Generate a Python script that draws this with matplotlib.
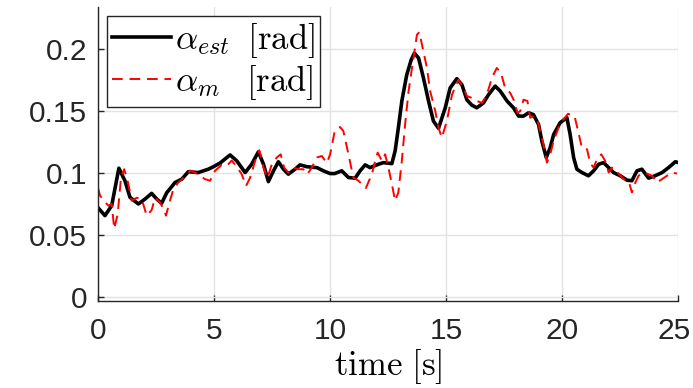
import numpy as np
import matplotlib
matplotlib.use('Agg')
import matplotlib.pyplot as plt
import matplotlib.transforms as mtransforms

plt.rcParams['mathtext.fontset'] = 'cm'
plt.rcParams['font.family'] = 'Liberation Sans'

# estimated angle (black)
t_est = [0.0, 0.3, 0.59, 0.9, 1.16, 1.38, 1.74, 2.03, 2.31, 2.53, 2.74, 2.96, 3.32, 3.61,
         3.89, 4.32, 4.75, 4.97, 5.26, 5.69, 5.98, 6.34, 6.62, 6.91, 7.13, 7.34, 7.56, 7.77,
         7.99, 8.2, 8.49, 8.7, 9.0, 9.43, 9.71, 10.0, 10.2, 10.5, 10.79, 11.08, 11.29, 11.51,
         11.72, 12.08, 12.3, 12.66, 12.8, 12.94, 13.09, 13.3, 13.49, 13.63, 13.81, 14.02,
         14.24, 14.45, 14.67, 14.96, 15.17, 15.46, 15.68, 15.89, 16.1, 16.32, 16.61, 16.82,
         17.11, 17.33, 17.62, 17.9, 18.12, 18.33, 18.55, 18.76, 18.98, 19.12, 19.31, 19.48,
         19.63, 19.91, 20.2, 20.34, 20.49, 20.63, 20.85, 21.13, 21.35, 21.57, 21.78, 22.0,
         22.21, 22.5, 22.79, 23.0, 23.22, 23.43, 23.72, 24.0, 24.3, 24.58, 24.87, 25.0]
alpha_est = [0.072, 0.0656, 0.0736, 0.1038, 0.0937, 0.0803, 0.075, 0.079, 0.0835, 0.079,
             0.0755, 0.084, 0.0923, 0.095, 0.101, 0.1003, 0.103, 0.105, 0.108, 0.1145, 0.1097,
             0.1003, 0.107, 0.117, 0.107, 0.093, 0.1017, 0.109, 0.103, 0.099, 0.103, 0.1065,
             0.105, 0.1043, 0.1017, 0.0995, 0.0995, 0.1017, 0.0963, 0.0958, 0.1017, 0.1065,
             0.1043, 0.107, 0.1083, 0.1075, 0.1177, 0.1364, 0.158, 0.179, 0.191, 0.1966, 0.1926,
             0.1766, 0.158, 0.1418, 0.136, 0.1525, 0.1685, 0.176, 0.171, 0.159, 0.1547, 0.1525,
             0.1565, 0.163, 0.17, 0.166, 0.158, 0.1525, 0.1458, 0.1458, 0.1485, 0.147, 0.139,
             0.1258, 0.1124, 0.1204, 0.131, 0.1405, 0.1445, 0.131, 0.1124, 0.103, 0.1003, 0.0977,
             0.1017, 0.107, 0.1083, 0.1043, 0.1003, 0.0977, 0.0942, 0.0937, 0.1017, 0.103,
             0.0958, 0.0977, 0.1003, 0.1043, 0.109, 0.1083]

# measured angle (red dashed)
t_m = [0.0, 0.09, 0.44, 0.59, 0.7, 0.85, 0.99, 1.13, 1.31, 1.45, 1.67, 1.88, 2.1, 2.31, 2.46,
       2.67, 2.82, 2.93, 3.1, 3.25, 3.46, 3.68, 3.97, 4.25, 4.61, 4.83, 5.04, 5.33, 5.55, 5.76,
       5.98, 6.19, 6.38, 6.55, 6.77, 6.95, 7.13, 7.3, 7.49, 7.7, 7.87, 8.02, 8.2, 8.42, 8.63,
       8.85, 9.02, 9.21, 9.43, 9.64, 9.86, 10.0, 10.2, 10.43, 10.57, 10.79, 11.0, 11.22, 11.54,
       11.8, 11.94, 12.05, 12.23, 12.37, 12.51, 12.66, 12.8, 12.94, 13.09, 13.23, 13.38, 13.55,
       13.74, 13.84, 14.02, 14.17, 14.31, 14.53, 14.67, 14.81, 15.03, 15.25, 15.53, 15.75,
       15.89, 16.1, 16.32, 16.54, 16.75, 16.97, 17.18, 17.36, 17.54, 17.76, 17.93, 18.07,
       18.19, 18.33, 18.5, 18.62, 18.79, 18.94, 19.05, 19.19, 19.34, 19.48, 19.63, 19.84,
       19.99, 20.25, 20.53, 20.7, 20.85, 21.07, 21.2, 21.35, 21.5, 21.68, 21.85, 22.0, 22.14,
       22.31, 22.43, 22.64, 22.86, 23.0, 23.15, 23.29, 23.46, 23.64, 23.87, 24.08, 24.3,
       24.51, 24.73, 24.94]
alpha_m = [0.088, 0.0816, 0.0736, 0.075, 0.055, 0.067, 0.096, 0.103, 0.091, 0.0776, 0.08,
           0.079, 0.0656, 0.07, 0.08, 0.0762, 0.071, 0.0656, 0.0776, 0.087, 0.0923, 0.096,
           0.102, 0.0995, 0.095, 0.0937, 0.1017, 0.1065, 0.1057, 0.11, 0.105, 0.099, 0.0896,
           0.096, 0.1097, 0.1183, 0.1043, 0.096, 0.107, 0.1124, 0.115, 0.1043, 0.1003, 0.1043,
           0.103, 0.103, 0.099, 0.1043, 0.1124, 0.1137, 0.108, 0.115, 0.1338, 0.137, 0.1338,
           0.115, 0.0963, 0.0937, 0.0878, 0.099, 0.1097, 0.1164, 0.1097, 0.115, 0.1043, 0.091,
           0.0776, 0.0843, 0.1097, 0.139, 0.166, 0.1873, 0.2114, 0.2135, 0.198, 0.1846, 0.166,
           0.1498, 0.1364, 0.1284, 0.1418, 0.163, 0.1753, 0.1685, 0.162, 0.1605, 0.158, 0.1565,
           0.163, 0.1766, 0.1846, 0.1806, 0.1685, 0.1645, 0.158, 0.1485, 0.1498, 0.159, 0.158,
           0.1445, 0.1458, 0.1418, 0.1338, 0.123, 0.1083, 0.115, 0.1258, 0.1364, 0.1418, 0.1477,
           0.1458, 0.1324, 0.12, 0.119, 0.108, 0.1043, 0.111, 0.115, 0.1097, 0.1003, 0.1043,
           0.1017, 0.0995, 0.095, 0.0937, 0.0843, 0.0923, 0.0977, 0.1003, 0.0995, 0.0977,
           0.0923, 0.095, 0.0977, 0.1003, 0.0995]

xticks = [0, 5, 10, 15, 20, 25]
yticks = [0, 0.05, 0.1, 0.15, 0.2]
ytick_labels = ['0', '0.05', '0.1', '0.15', '0.2']

fig = plt.figure(figsize=(6.93, 3.88), dpi=100)
ax = fig.add_axes([0.1414, 0.225, 0.8374, 0.7577])

ax.plot(t_est, alpha_est, color='black', lw=2.6, label=r'$\alpha_{est}\;\;[\mathrm{rad}]$')
ax.plot(t_m, alpha_m, color='red', lw=1.4, linestyle=(0, (5.5, 3.5)),
        label=r'$\alpha_{m}\;\;\;[\mathrm{rad}]$')

ax.set_xlim(0, 25)
ax.set_ylim(-0.003, 0.234)
ax.set_xticks(xticks)
ax.set_yticks(yticks)
ax.set_yticklabels(ytick_labels)
ax.grid(True, color='#e3e3e3', lw=1)
ax.set_axisbelow(True)
for s in ['top', 'right']:
    ax.spines[s].set_visible(False)
for s in ['left', 'bottom']:
    ax.spines[s].set_color('#262626')
    ax.spines[s].set_linewidth(1.0)
ax.tick_params(direction='in', length=4, width=1, colors='#262626', labelsize=21.5)
ax.tick_params(axis='y', pad=8)
ax.tick_params(axis='x', pad=12)

# nudge the last x label so it stays inside the figure
last = ax.get_xticklabels()[-1]
last.set_transform(last.get_transform() + mtransforms.ScaledTranslation(-4 / 100, 0, fig.dpi_scale_trans))

ax.set_xlabel(r'$\mathrm{time}\ [\mathrm{s}]$', fontsize=25, labelpad=1)

leg = ax.legend(loc='upper left', bbox_to_anchor=(0.0155, 0.97), fontsize=25,
                frameon=True, fancybox=False, edgecolor='#262626', framealpha=1,
                handlelength=1.7, handletextpad=0.1, borderpad=0.15, labelspacing=0.1,
                borderaxespad=0)
leg.get_frame().set_linewidth(1.0)

fig.savefig('out.png', dpi=100)
